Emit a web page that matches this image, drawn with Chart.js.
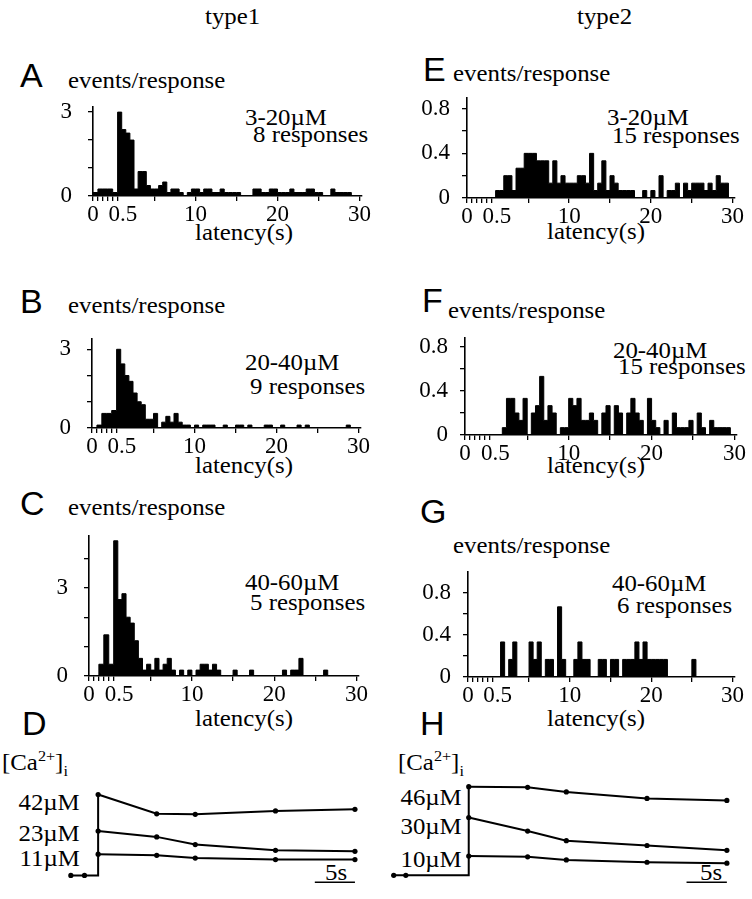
<!DOCTYPE html>
<html>
<head>
<meta charset="utf-8">
<title>latency histograms</title>
<script src="https://cdn.jsdelivr.net/npm/chart.js@4.4.1/dist/chart.umd.min.js"></script>
<style>
  body { margin: 0; width: 752px; height: 899px; position: relative; overflow: hidden; background: #fff; color: #000;
         font-family: "Liberation Serif", "Times New Roman", serif; }
  canvas { position: absolute; }
  .t { position: absolute; font-size: 23px; line-height: 1; white-space: nowrap; transform: scaleX(1.08); transform-origin: 0 0; }
  .r { transform-origin: 100% 0; text-align: right; }
  .L { position: absolute; font-family: "Liberation Sans", Arial, sans-serif; font-size: 34px; line-height: 1; }
  sup, sub { font-size: 15px; line-height: 0; }
</style>
</head>
<body>
<div class="t" style="left:205px;top:5px">type1</div>
<div class="t" style="left:577px;top:5px">type2</div>

<div class="L" style="left:20px;top:58px">A</div>
<div class="t" style="left:68px;top:69px">events/response</div>
<div class="t" style="left:245px;top:106px">3-20µM</div>
<div class="t" style="left:253px;top:123px">8 responses</div>
<div class="t" style="left:195px;top:221px">latency(s)</div>

<div class="L" style="left:20px;top:284px">B</div>
<div class="t" style="left:68px;top:294px">events/response</div>
<div class="t" style="left:245px;top:351px">20-40µM</div>
<div class="t" style="left:250px;top:375px">9 responses</div>
<div class="t" style="left:195px;top:454px">latency(s)</div>

<div class="L" style="left:20px;top:486px">C</div>
<div class="t" style="left:68px;top:496px">events/response</div>
<div class="t" style="left:245px;top:571px">40-60µM</div>
<div class="t" style="left:250px;top:591px">5 responses</div>
<div class="t" style="left:195px;top:707px">latency(s)</div>

<div class="L" style="left:423px;top:52px">E</div>
<div class="t" style="left:453px;top:62px">events/response</div>
<div class="t" style="left:607px;top:106px">3-20µM</div>
<div class="t" style="left:612px;top:124px">15 responses</div>
<div class="t" style="left:547px;top:220px">latency(s)</div>

<div class="L" style="left:422px;top:283px">F</div>
<div class="t" style="left:448px;top:299px">events/response</div>
<div class="t" style="left:613px;top:339px">20-40µM</div>
<div class="t" style="left:618px;top:355px">15 responses</div>
<div class="t" style="left:547px;top:454px">latency(s)</div>

<div class="L" style="left:420px;top:494px">G</div>
<div class="t" style="left:453px;top:534px">events/response</div>
<div class="t" style="left:612px;top:572px">40-60µM</div>
<div class="t" style="left:617px;top:594px">6 responses</div>
<div class="t" style="left:547px;top:707px">latency(s)</div>

<div class="L" style="left:22px;top:706px">D</div>
<div class="t" style="left:2px;top:751px">[Ca<sup>2+</sup>]<sub>i</sub></div>
<div class="t r" style="right:672px;top:791px">42µM</div>
<div class="t r" style="right:672px;top:822px">23µM</div>
<div class="t r" style="right:672px;top:847px">11µM</div>
<div class="t" style="left:325px;top:861px">5s</div>

<div class="L" style="left:420px;top:706px">H</div>
<div class="t" style="left:398px;top:751px">[Ca<sup>2+</sup>]<sub>i</sub></div>
<div class="t r" style="right:290px;top:786px">46µM</div>
<div class="t r" style="right:290px;top:815px">30µM</div>
<div class="t r" style="right:290px;top:848px">10µM</div>
<div class="t" style="left:700px;top:861px">5s</div>

<canvas id="cA"></canvas>
<canvas id="cB"></canvas>
<canvas id="cC"></canvas>
<canvas id="cE"></canvas>
<canvas id="cF"></canvas>
<canvas id="cG"></canvas>
<canvas id="cD"></canvas>
<canvas id="cH"></canvas>

<script>
// latency bins: 0-0.5 s in 0.1 s steps, then 0.5-30 s in 0.5 s steps
const binLeft = [];
for (let i = 0; i < 5; i++) binLeft.push(+(i * 0.1).toFixed(1));
for (let i = 0; i < 59; i++) binLeft.push(0.5 + i * 0.5);

const latencyTicks = [0, 0.1, 0.2, 0.3, 0.4, 0.5, 5, 10, 15, 20, 25, 30];
const latencyLabels = ["0", "0.5", "10", "20", "30"];
const latencyLabelAt = [0, 0.5, 10, 20, 30];

// events/response per bin (first 5 values are the 0.1 s bins)
const histA = [0.125, 0.25, 0.25, 0.25, 0.125,
  3, 2.375, 2.25, 2, 0.25, 0.875, 0.875, 0.375, 0.25, 0.25, 0.375, 0.5, 0.125, 0.25, 0.25, 0.125, 0,
  0.125, 0.25, 0.25, 0.125, 0.25, 0.25, 0.125, 0.125, 0.25, 0.125, 0.125, 0.125, 0.125, 0, 0, 0,
  0.25, 0.25, 0.125, 0.125, 0.25, 0.25, 0.125, 0.125, 0.125, 0.25, 0.125, 0.125, 0.125, 0.25, 0.25,
  0.125, 0.125, 0, 0, 0.25, 0.125, 0.125, 0.125, 0.125, 0, 0];
const histB = [0, 0.111, 0.556, 0.556, 0.667,
  3, 2.444, 2, 1.778, 1.333, 1, 0.889, 0.333, 0.333, 0.556, 0, 0.222, 0.444, 0.222, 0.556, 0.222,
  0.111, 0.111, 0, 0.111, 0, 0.111, 0.111, 0.111, 0, 0, 0.111, 0, 0, 0.111, 0.111, 0, 0.111, 0, 0, 0,
  0.111, 0.111, 0, 0, 0.111, 0, 0, 0, 0.111, 0, 0.111, 0, 0, 0, 0, 0, 0, 0, 0, 0, 0.111, 0, 0];
const histC = [0, 0, 0.4, 1.4, 0.4,
  4.6, 2.6, 2.8, 2, 1.8, 1.2, 0.6, 0.2, 0.4, 0.2, 0.6, 0.2, 0.4, 0.6, 0.2, 0, 0.2, 0, 0.2, 0, 0.2,
  0.4, 0.4, 0.2, 0.4, 0.2, 0, 0, 0, 0.2, 0, 0, 0, 0.2, 0, 0, 0, 0, 0, 0, 0, 0.2, 0, 0.2, 0.2, 0.6,
  0, 0, 0, 0, 0, 0.2, 0, 0, 0, 0, 0, 0, 0];
const histE = [0, 0, 0, 0, 0,
  0, 0.067, 0.067, 0.2, 0.2, 0.067, 0.267, 0.267, 0.4, 0.4, 0.4, 0.333, 0.333, 0.333, 0.133, 0.333,
  0.133, 0.2, 0.133, 0.133, 0.133, 0.2, 0.2, 0.133, 0.4, 0.067, 0.133, 0.333, 0.067, 0.2, 0.133,
  0.067, 0.067, 0.067, 0.067, 0, 0, 0.067, 0, 0.067, 0, 0.2, 0, 0.067, 0.067, 0.133, 0, 0.133,
  0.067, 0.133, 0.133, 0.133, 0.067, 0.133, 0.067, 0.2, 0.133, 0.133, 0];
const histF = [0, 0, 0, 0, 0,
  0, 0, 0, 0.067, 0.333, 0.333, 0.2, 0.133, 0.333, 0, 0.2, 0.267, 0.533, 0.133, 0.267, 0.2, 0,
  0.067, 0.067, 0.333, 0.267, 0.333, 0.133, 0.133, 0.2, 0.133, 0, 0.2, 0.267, 0, 0.267, 0.2, 0,
  0.2, 0.333, 0.2, 0.133, 0, 0.333, 0.133, 0.067, 0, 0.133, 0, 0.2, 0.067, 0.067, 0.067, 0.133,
  0, 0.2, 0.067, 0, 0.133, 0.067, 0.067, 0.067, 0.067, 0];
const histG = [0, 0, 0, 0, 0,
  0, 0, 0.333, 0, 0.167, 0.333, 0, 0, 0, 0.333, 0.167, 0.333, 0, 0.167, 0.167, 0, 0.667, 0.167,
  0, 0, 0.167, 0.333, 0.167, 0.167, 0, 0, 0.167, 0.167, 0, 0.167, 0.167, 0, 0.167, 0.167, 0.167,
  0.333, 0.167, 0.333, 0.167, 0.167, 0.167, 0.167, 0.167, 0, 0, 0, 0, 0, 0, 0.167, 0, 0, 0, 0, 0,
  0, 0, 0, 0];

// [Ca2+]i traces (µM) sampled after the flash at t = 0
const caTimes = [0, 7.3, 12.1, 22.1, 32];
const preD = [-3.4, -1.7];
const preH = [-9.3, -7.8];
const caD42 = [42, 32, 31.7, 33.5, 34.3];
const caD23 = [23, 20, 16, 13, 12.5];
const caD11 = [11, 10.4, 9, 8.2, 8.2];
const caH46 = [46, 45.7, 43.3, 39.9, 38.9];
const caH30 = [30, 23, 18, 15.5, 13];
const caH10 = [10, 9.6, 8, 6.8, 6.3];
const scaleBar = [27, 32]; // 5 s

const serif = { family: "Liberation Serif", size: 23 };

// broken latency axis: the 0-0.5 s part is stretched
function axisPos(t) {
  return t <= 0.5 ? t * 12 : 6 + (t - 0.5) * 2;
}

function xTicks() {
  const out = latencyTicks.map(t => ({ value: axisPos(t), lbl: "" }));
  latencyLabelAt.forEach((t, i) => {
    if (t === 0.5) out.push({ value: axisPos(t) + 1.3, lbl: latencyLabels[i], hide: true });
    else out.find(k => k.value === axisPos(t)).lbl = latencyLabels[i];
  });
  return out;
}

function histChart(id, values, box) {
  const unit = (box.x30 - box.ax) / 65;
  const plotW = unit * 65.6;
  const cv = document.getElementById(id);
  cv.width = Math.round(60 + plotW + 26);
  cv.height = Math.round(16 + box.bottom - box.top + 45);
  cv.style.left = (box.ax - 60) + "px";
  cv.style.top = (box.top - 16) + "px";

  const pts = values.map((v, i) => ({ x: axisPos(binLeft[i]), y: v }));
  pts.push({ x: axisPos(30), y: 0 });

  new Chart(cv, {
    type: "line",
    data: {
      datasets: [{
        data: pts, stepped: true, fill: "origin",
        backgroundColor: "#000", borderColor: "#000", borderWidth: 1, pointRadius: 0
      }]
    },
    options: {
      responsive: false, animation: false, events: [],
      layout: { padding: { top: 16, right: 26, left: 0, bottom: 0 } },
      plugins: { legend: { display: false }, tooltip: { enabled: false } },
      scales: {
        x: {
          type: "linear", min: 0, max: 65.6,
          afterFit: s => { s.height = 45; },
          afterBuildTicks: s => { s.ticks = xTicks(); },
          ticks: { autoSkip: false, maxRotation: 0, minRotation: 0, padding: 0, font: serif, color: "#000",
                   callback: (v, i, t) => t[i].lbl },
          grid: { drawOnChartArea: false, tickLength: 5, lineWidth: 1.3,
                  color: c => (c.tick && c.tick.hide) ? "rgba(0,0,0,0)" : "#000" },
          border: { color: "#000", width: 1.6 }
        },
        y: {
          min: 0, max: box.ymax,
          afterFit: s => { s.width = 60; },
          afterBuildTicks: s => { s.ticks = box.yTicks.map(v => ({ value: v })); },
          ticks: { autoSkip: false, padding: box.yPad, font: serif, color: "#000",
                   callback: v => box.yLabels.includes(v) ? String(v) : "" },
          grid: { drawOnChartArea: false, tickLength: 5, lineWidth: 1.3, color: "#000" },
          border: { color: "#000", width: 1.6 }
        }
      }
    }
  });
}

const type1Ticks = { yPad: 16 };
histChart("cA", histA, { ...type1Ticks, ax: 93, top: 93, bottom: 196, x30: 360, ymax: 3.19,
  yTicks: [0, 1, 2, 3], yLabels: [0, 3] });
histChart("cB", histB, { ...type1Ticks, ax: 92, top: 325, bottom: 428, x30: 359, ymax: 3.4,
  yTicks: [0, 1, 2, 3], yLabels: [0, 3] });
histChart("cC", histC, { ...type1Ticks, ax: 89, top: 522, bottom: 676, x30: 357, ymax: 4.77,
  yTicks: [0, 1, 2, 3, 4], yLabels: [0, 3] });
histChart("cE", histE, { yPad: 12, ax: 467, top: 88, bottom: 198, x30: 733, ymax: 0.898,
  yTicks: [0, 0.2, 0.4, 0.6, 0.8], yLabels: [0, 0.4, 0.8] });
histChart("cF", histF, { yPad: 12, ax: 465, top: 328, bottom: 435, x30: 735, ymax: 0.884,
  yTicks: [0, 0.2, 0.4, 0.6, 0.8], yLabels: [0, 0.4, 0.8] });
histChart("cG", histG, { yPad: 12, ax: 468, top: 562, bottom: 677, x30: 733, ymax: 1.0,
  yTicks: [0, 0.2, 0.4, 0.6, 0.8], yLabels: [0, 0.4, 0.8] });

function caChart(id, box, pre, traces) {
  const pxS = 8.24, pxM = 2.08;
  const cv = document.getElementById(id);
  cv.width = Math.round((box.tMax - box.tMin) * pxS);
  cv.height = Math.round((box.cMax - box.cMin) * pxM);
  cv.style.left = (box.x0 + box.tMin * pxS) + "px";
  cv.style.top = (box.y0 - box.cMax * pxM) + "px";

  const line = { borderColor: "#000", borderWidth: 2, pointBackgroundColor: "#000", pointBorderWidth: 0,
                 pointRadius: 2.6, tension: 0, fill: false };
  const datasets = [{
    ...line,
    data: [{ x: pre[0], y: 0 }, { x: pre[1], y: 0 }, { x: 0, y: 0 }, { x: 0, y: traces[0][0] }],
    pointRadius: [2.6, 2.6, 0, 0]
  }];
  traces.forEach(vals => datasets.push({ ...line, data: caTimes.map((t, i) => ({ x: t, y: vals[i] })) }));
  datasets.push({ ...line, borderWidth: 1.6, pointRadius: 0,
                  data: scaleBar.map(t => ({ x: t, y: -3.6 })) });

  new Chart(cv, {
    type: "line",
    data: { datasets },
    options: {
      responsive: false, animation: false, events: [],
      layout: { padding: 0 },
      plugins: { legend: { display: false }, tooltip: { enabled: false } },
      scales: {
        x: { type: "linear", display: false, min: box.tMin, max: box.tMax },
        y: { display: false, min: box.cMin, max: box.cMax }
      }
    }
  });
}

caChart("cD", { x0: 95, y0: 879, tMin: -5, tMax: 34, cMin: -5, cMax: 48 }, preD, [caD42, caD23, caD11]);
caChart("cH", { x0: 467, y0: 879, tMin: -11, tMax: 34, cMin: -5, cMax: 50 }, preH, [caH46, caH30, caH10]);
</script>
</body>
</html>
